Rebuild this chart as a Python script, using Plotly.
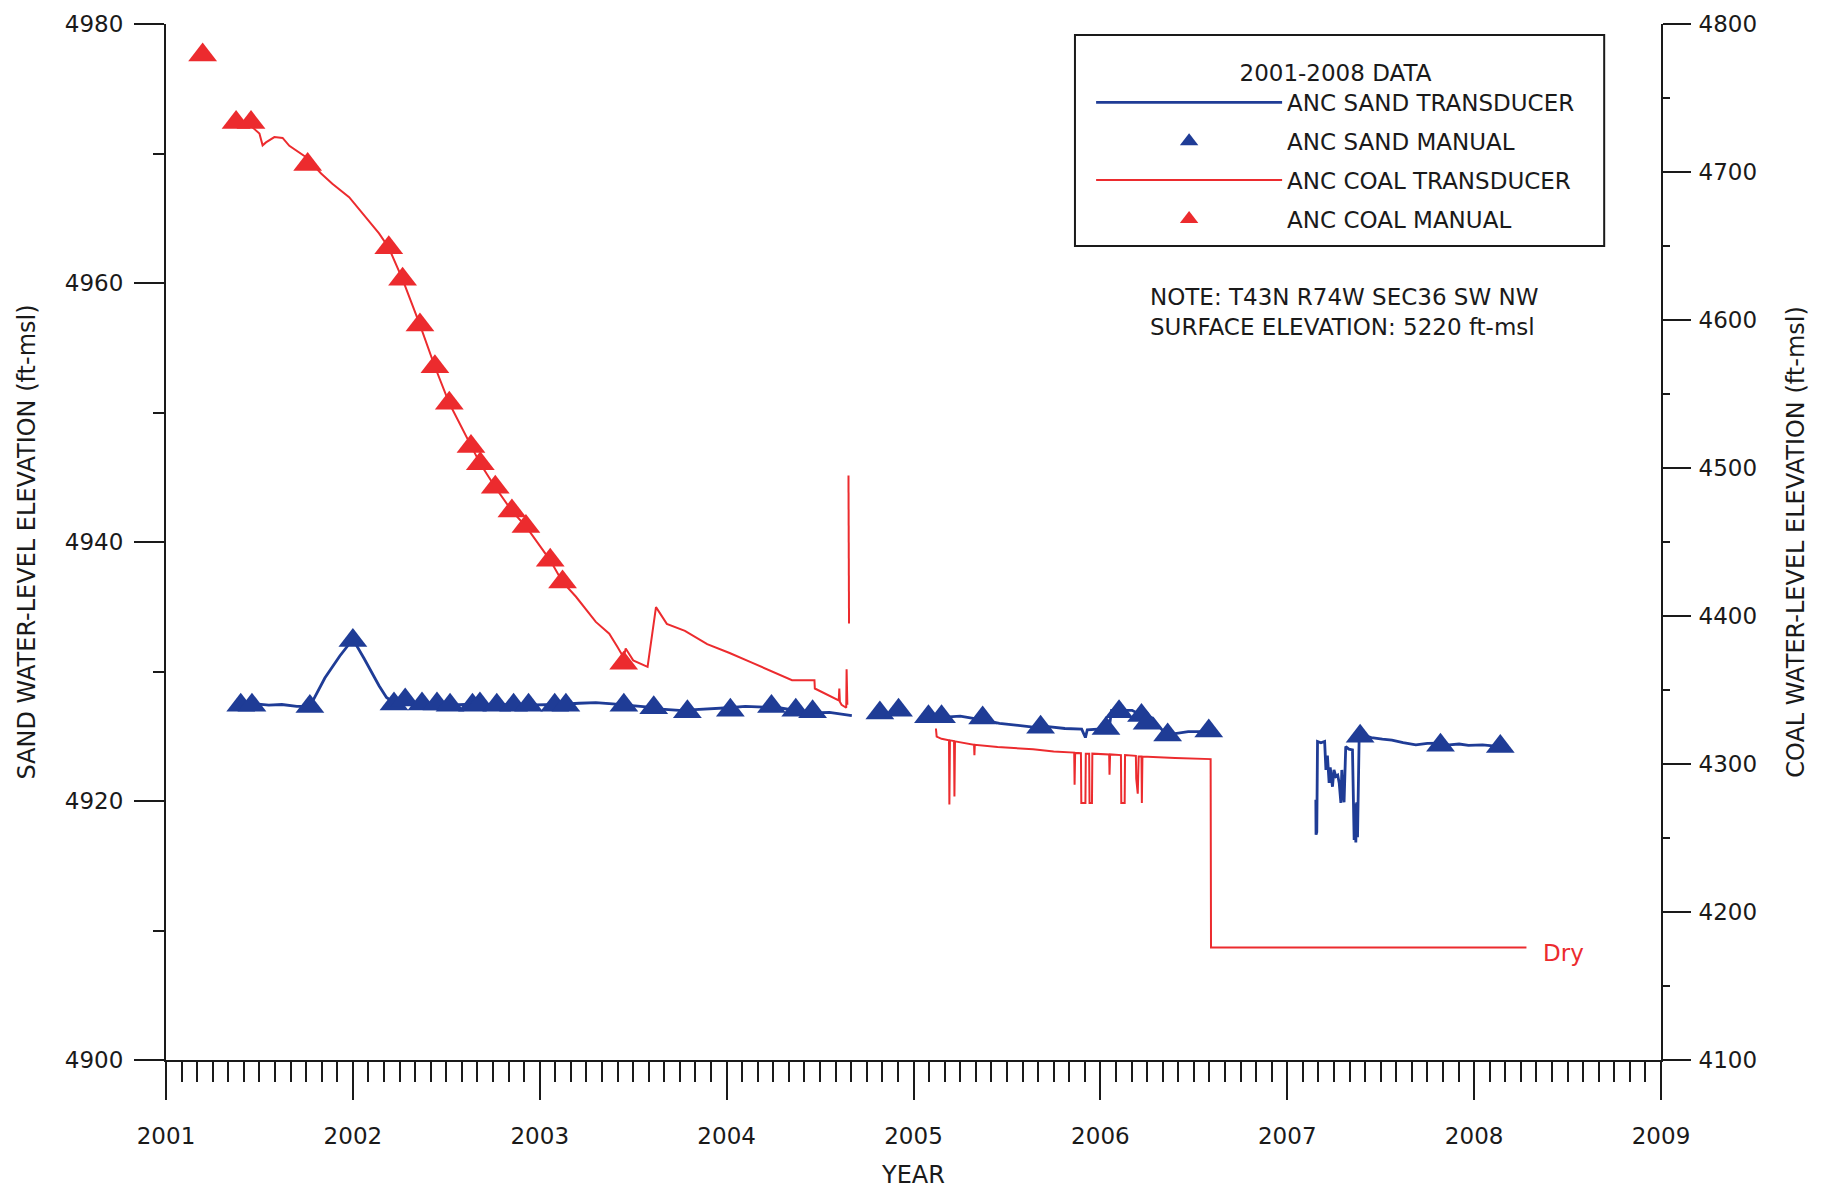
import plotly.graph_objects as go

# ---------------- data ----------------
sand_t_year = [2001.38, 2001.42, 2001.48, 2001.55, 2001.62, 2001.70, 2001.77, 2001.85, 2001.93, 2002.00,
               2002.06, 2002.14, 2002.18, 2002.22, 2002.30, 2002.40, 2002.50, 2002.60, 2002.70, 2002.80,
               2002.90, 2003.00, 2003.10, 2003.21, 2003.30, 2003.39, 2003.48, 2003.568, 2003.65, 2003.746,
               2003.83, 2003.924, 2004.01, 2004.10, 2004.19, 2004.28, 2004.37, 2004.46, 2004.55, 2004.62,
               2004.67, None,
               2005.155, 2005.19, 2005.25, 2005.317, 2005.39, 2005.46, 2005.55, 2005.64, 2005.72, 2005.81,
               2005.90, 2005.92, 2005.93, 2006.047, 2006.06, 2006.10, 2006.17, 2006.22, 2006.28, 2006.33,
               2006.40, 2006.47, 2006.57, None,
               2007.153, 2007.154, 2007.158, 2007.162, 2007.18, 2007.20, 2007.207, 2007.215, 2007.224, 2007.23,
               2007.242, 2007.25, 2007.26, 2007.27, 2007.278, 2007.287, 2007.292, 2007.296, 2007.304, 2007.31,
               2007.313, 2007.33, 2007.349, 2007.358, 2007.362, 2007.367, 2007.372, 2007.376, 2007.385, 2007.402,
               2007.45, 2007.509, 2007.56, 2007.62, 2007.688, 2007.75, 2007.822, 2007.866, 2007.92, 2007.97,
               2008.045, 2008.10, 2008.135]
sand_t_val = [4927.8, 4927.6, 4927.5, 4927.4, 4927.45, 4927.3, 4927.3, 4929.5, 4931.2, 4932.5,
              4931.0, 4928.9, 4928.0, 4927.6, 4927.5, 4927.5, 4927.4, 4927.45, 4927.4, 4927.45,
              4927.4, 4927.4, 4927.45, 4927.55, 4927.6, 4927.5, 4927.4, 4927.27, 4927.1, 4927.0,
              4927.05, 4927.1, 4927.2, 4927.3, 4927.25, 4927.2, 4927.0, 4926.8, 4926.85, 4926.7,
              4926.6, None,
              4926.6, 4926.5, 4926.55, 4926.4, 4926.2, 4926.0, 4925.85, 4925.7, 4925.75, 4925.6,
              4925.55, 4924.9, 4925.5, 4925.6, 4927.0, 4927.0, 4927.0, 4926.6, 4926.4, 4925.5,
              4925.2, 4925.35, 4925.35, None,
              4920.1, 4917.4, 4917.6, 4924.6, 4924.5, 4924.6, 4922.4, 4923.5, 4921.4, 4922.6,
              4921.1, 4922.4, 4921.9, 4922.0, 4921.4, 4919.85, 4922.4, 4921.0, 4919.9, 4923.9,
              4924.2, 4924.0, 4923.95, 4917.0, 4919.8, 4916.8, 4919.9, 4917.2, 4925.1, 4925.1,
              4924.9, 4924.77, 4924.7, 4924.5, 4924.33, 4924.45, 4924.46, 4924.33, 4924.4, 4924.3,
              4924.33, 4924.25, 4924.2]

sand_m_year = [2001.23, 2001.40, 2001.46, 2001.77, 2002.00, 2002.22, 2002.28, 2002.37, 2002.45, 2002.52,
               2002.64, 2002.68, 2002.77, 2002.86, 2002.94, 2003.08, 2003.14, 2003.45, 2003.61, 2003.79,
               2004.02, 2004.24, 2004.37, 2004.46, 2004.82, 2004.92, 2005.08, 2005.15, 2005.37, 2005.68,
               2006.03, 2006.10, 2006.22, 2006.25, 2006.36, 2006.58, 2007.39, 2007.82, 2008.14]
sand_m_val = [4899.0, 4927.4, 4927.4, 4927.3, 4932.4, 4927.5, 4927.8, 4927.5, 4927.5, 4927.4,
              4927.4, 4927.5, 4927.4, 4927.4, 4927.4, 4927.4, 4927.4, 4927.4, 4927.2, 4926.9,
              4927.0, 4927.3, 4927.0, 4926.9, 4926.8, 4927.0, 4926.5, 4926.5, 4926.4, 4925.7,
              4925.6, 4926.9, 4926.6, 4926.0, 4925.1, 4925.4, 4925.0, 4924.3, 4924.2]

coal_t_year = [2001.455, 2001.50, 2001.517, 2001.535, 2001.58, 2001.624, 2001.66, 2001.75, 2001.83, 2001.89,
               2001.98, 2002.07, 2002.14, 2002.192, 2002.266, 2002.359, 2002.439, 2002.516, 2002.632, 2002.682,
               2002.762, 2002.851, 2002.926, 2003.056, 2003.122, 2003.194, 2003.30, 2003.372, 2003.416, 2003.449,
               2003.46, 2003.50, 2003.577, 2003.622, 2003.68, 2003.777, 2003.896, 2004.016, 2004.135, 2004.25,
               2004.35, 2004.47, 2004.472, 2004.60, 2004.603, 2004.606, 2004.615, 2004.64, 2004.642, 2004.646,
               None, 2004.652, 2004.655, None,
               2005.12, 2005.124, 2005.15, 2005.19, 2005.192, 2005.195, 2005.217, 2005.219, 2005.222, 2005.30,
               2005.324, 2005.326, 2005.328, 2005.45, 2005.64, 2005.75, 2005.86, 2005.862, 2005.865, 2005.896,
               2005.898, 2005.92, 2005.922, 2005.94, 2005.942, 2005.955, 2005.957, 2006.047, 2006.049, 2006.052,
               2006.11, 2006.112, 2006.13, 2006.132, 2006.19, 2006.192, 2006.20, 2006.205, 2006.22, 2006.222,
               2006.225, 2006.40, 2006.57, 2006.59, 2006.592, 2008.28]
coal_t_val = [4731, 4726, 4718, 4720, 4723.6, 4723, 4717.7, 4710, 4699, 4692,
              4683, 4669, 4658.5, 4648.8, 4627.5, 4596.7, 4568.4, 4543.7, 4514.5, 4502.8,
              4487, 4471, 4460.5, 4437.6, 4423, 4413, 4396, 4388, 4379, 4372,
              4378, 4370, 4365.6, 4406, 4394.7, 4390, 4381, 4375, 4368.5, 4362,
              4356.6, 4356.6, 4351, 4343, 4351, 4342, 4340, 4338, 4364, 4340,
              None, 4495, 4395, None,
              4324, 4318.5, 4317, 4316, 4272.6, 4316, 4315.5, 4278, 4315.3, 4313.5,
              4313, 4306, 4313, 4311.5, 4310, 4308.5, 4307.7, 4286, 4307.5, 4307.3,
              4273.6, 4273.6, 4307, 4307, 4273.6, 4273.6, 4307, 4306.5, 4292.7, 4306.5,
              4306, 4273.6, 4273.6, 4306, 4305.5, 4290, 4280, 4305, 4305, 4273.6,
              4305, 4304, 4303.5, 4303.3, 4176, 4176]

coal_m_year = [2001.196, 2001.375, 2001.455, 2001.758, 2002.192, 2002.266, 2002.359, 2002.439, 2002.516,
               2002.632, 2002.682, 2002.762, 2002.851, 2002.926, 2003.056, 2003.122, 2003.449]
coal_m_val = [4779, 4733.4, 4733.4, 4705, 4648.8, 4627.5, 4596.7, 4568.4, 4543.7,
              4514.5, 4502.8, 4487, 4471, 4460.5, 4437.6, 4423, 4368]

year_ticks = [2001, 2002, 2003, 2004, 2005, 2006, 2007, 2008, 2009]

BLUE = "#1f3c96"
RED = "#ec2b2e"
FONT = "DejaVu Sans"
INK = "#1a1a1a"

fig = go.Figure()
fig.add_trace(go.Scatter(x=sand_t_year, y=sand_t_val, mode="lines", name="ANC SAND TRANSDUCER",
                         line=dict(color=BLUE, width=2.8), legendgroup="a", connectgaps=False))
fig.add_trace(go.Scatter(x=sand_m_year, y=sand_m_val, mode="markers", name="ANC SAND MANUAL",
                         marker=dict(symbol="triangle-up", size=25, color=BLUE), legendgroup="b",
                         cliponaxis=False))
fig.add_trace(go.Scatter(x=coal_t_year, y=coal_t_val, mode="lines", name="ANC COAL TRANSDUCER",
                         line=dict(color=RED, width=2), legendgroup="c", yaxis="y2", connectgaps=False))
fig.add_trace(go.Scatter(x=coal_m_year, y=coal_m_val, mode="markers", name="ANC COAL MANUAL",
                         marker=dict(symbol="triangle-up", size=25, color=RED), legendgroup="d",
                         yaxis="y2", cliponaxis=False))

# page has an 8px body margin: figure is sized to fit inside the window
fig.update_layout(
    width=1812, height=1181,
    margin=dict(l=158, r=159, t=16, b=129, autoexpand=False),
    paper_bgcolor="white", plot_bgcolor="white",
    font=dict(family=FONT, size=23, color=INK),
    xaxis=dict(range=[2001, 2009], tickmode="array", tickvals=year_ticks,
               ticktext=[str(v) for v in year_ticks], automargin=False, ticklabeloverflow="allow",
               showline=True, linewidth=2, linecolor=INK, ticks="outside", ticklen=38, tickwidth=2,
               tickcolor=INK, showgrid=False, zeroline=False, ticklabelstandoff=16,
               minor=dict(tick0=2001, dtick=1/12, ticks="outside", ticklen=20, tickwidth=1.5,
                          tickcolor=INK, showgrid=False),
               title=dict(text="YEAR", font=dict(size=24), standoff=24)),
    yaxis=dict(range=[4900, 4980], dtick=20, tick0=4900, showline=True, linewidth=2, linecolor=INK,
               ticks="outside", ticklen=30, tickwidth=2, tickcolor=INK, showgrid=False, zeroline=False,
               ticklabelstandoff=6, automargin=False, ticklabeloverflow="allow",
               minor=dict(dtick=10, tick0=4900, ticks="outside", ticklen=11, tickwidth=2, tickcolor=INK,
                          showgrid=False),
               title=dict(text="SAND WATER-LEVEL ELEVATION (ft-msl)", font=dict(size=24), standoff=22)),
    yaxis2=dict(range=[4100, 4800], dtick=100, tick0=4100, overlaying="y", side="right",
                showline=True, linewidth=2, linecolor=INK, ticks="outside", ticklen=28, tickwidth=2,
                tickcolor=INK, showgrid=False, zeroline=False, ticklabelstandoff=3, automargin=False,
                ticklabeloverflow="allow",
                minor=dict(dtick=50, tick0=4100, ticks="outside", ticklen=7, tickwidth=2, tickcolor=INK,
                           showgrid=False),
                title=dict(text="COAL WATER-LEVEL ELEVATION (ft-msl)", font=dict(size=24), standoff=31)),
    legend=dict(x=0.6188, y=0.974, xanchor="left", yanchor="top", bgcolor="rgba(0,0,0,0)",
                borderwidth=0, font=dict(size=23), itemwidth=186,
                tracegroupgap=6, traceorder="grouped",
                title=dict(text="2001-2008 DATA", side="top center", font=dict(size=23))),
    showlegend=True,
)

# legend frame
fig.add_shape(type="rect", xref="paper", yref="paper", x0=0.608, x1=0.962, y0=0.7857, y1=0.9894,
              line=dict(color=INK, width=2), fillcolor="white", layer="below")

fig.add_annotation(x=0.657, y=0.722, xref="paper", yref="paper", xanchor="left", yanchor="middle",
                   align="left", showarrow=False,
                   text="NOTE: T43N R74W SEC36 SW NW<br>SURFACE ELEVATION: 5220 ft-msl",
                   font=dict(size=23, color=INK))
fig.add_annotation(x=2008.36, y=4172, xref="x", yref="y2", xanchor="left", yanchor="middle",
                   showarrow=False, text="Dry", font=dict(size=23, color=RED))

fig.write_html("out.html")
